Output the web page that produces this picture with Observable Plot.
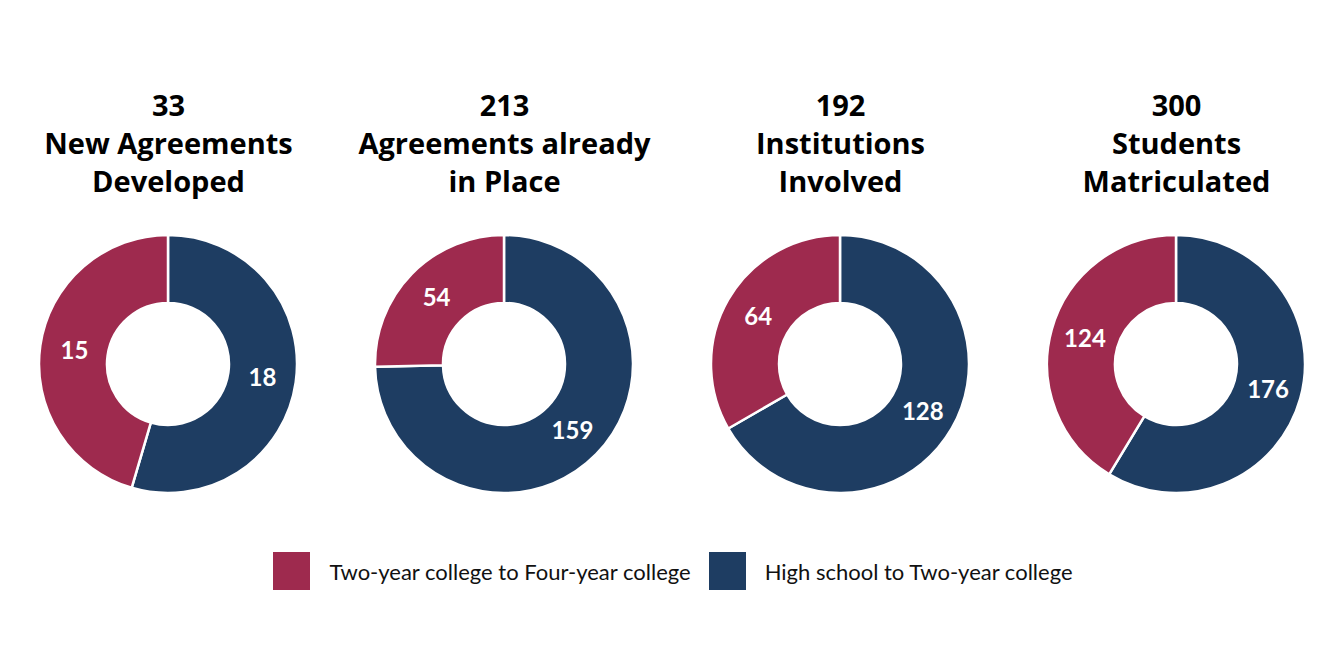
<!DOCTYPE html>
<html>
<head>
<meta charset="utf-8">
<script src="https://cdn.jsdelivr.net/npm/d3@7"></script>
<script src="https://cdn.jsdelivr.net/npm/@observablehq/plot@0.6"></script>
<style>
  html, body { margin: 0; padding: 0; background: #ffffff; }
  body { width: 1344px; height: 672px; overflow: hidden; font-family: Lato, "Open Sans", sans-serif; }
  #legend { display: flex; justify-content: center; align-items: center; padding-top: 22px; margin-left: 2px; }
  .item { display: flex; align-items: center; margin: 0 9px; }
  .swatch { width: 37px; height: 38px; margin-right: 19px; }
  .label { font-size: 22px; color: #111; }
</style>
</head>
<body>
<div id="chart"></div>
<div id="legend"></div>
<script>
// ---- data ----
const categories = ["New Agreements\nDeveloped", "Agreements already\nin Place", "Institutions\nInvolved", "Students\nMatriculated"];
const totals = [33, 213, 192, 300];
const twoYearToFourYear = [15, 54, 64, 124];
const highSchoolToTwoYear = [18, 159, 128, 176];
const seriesNames = ["Two-year college to Four-year college", "High school to Two-year college"];
const seriesColors = ["#9e2a4e", "#1e3d62"];

// ---- layout constants ----
const W = 1344, H = 530;
const CY = 364, R = 129, r = 61;
const TITLE_Y = 141;
const TITLE_SIZE = 29;

const pie = d3.pie().sort(null).value(d => d.value);
const arc = d3.arc().innerRadius(r).outerRadius(R);

// slices (order: High school first, clockwise from 12 o'clock, then Two-year)
const slices = categories.flatMap((c, i) => {
  const arcs = pie([
    {series: 1, value: highSchoolToTwoYear[i]},
    {series: 0, value: twoYearToFourYear[i]}
  ]);
  return arcs.map(a => ({i, series: a.data.series, value: a.data.value, a, c: arc.centroid(a)}));
});

const donutMark = (index, scales) => {
  const g = d3.create("svg:g");
  for (const s of slices) {
    const cx = scales.x(s.i + 0.5), cy = scales.y(CY);
    g.append("path")
      .attr("transform", `translate(${cx},${cy})`)
      .attr("d", arc(s.a))
      .attr("fill", seriesColors[s.series])
      .attr("stroke", "#ffffff")
      .attr("stroke-width", 2.5)
      .attr("stroke-linejoin", "round");
  }
  return g.node();
};

const pxPerUnit = W / 4;

const chart = Plot.plot({
  width: W,
  height: H,
  margin: 0,
  x: {domain: [0, 4], range: [0, W], axis: null},
  y: {domain: [0, H], range: [0, H], axis: null},
  style: {background: "#ffffff"},
  marks: [
    donutMark,
    Plot.text(categories, {
      x: (d, i) => i + 0.5,
      y: () => TITLE_Y,
      text: (d, i) => `${totals[i]}\n${d}`,
      fontSize: TITLE_SIZE,
      fontWeight: "bold",
      lineHeight: 38 / TITLE_SIZE,
      fill: "#000000",
      fontFamily: "'Open Sans', Lato, sans-serif"
    }),
    Plot.text(slices, {
      x: d => d.i + 0.5 + d.c[0] / pxPerUnit,
      y: d => CY + d.c[1],
      text: d => String(d.value),
      fontSize: 24,
      fontWeight: "bold",
      fill: "#ffffff",
      fontFamily: "Lato, 'Open Sans', sans-serif"
    })
  ]
});
document.getElementById("chart").appendChild(chart);

// ---- legend ----
const legend = document.getElementById("legend");
seriesNames.forEach((name, k) => {
  const item = document.createElement("div");
  item.className = "item";
  const sw = document.createElement("div");
  sw.className = "swatch";
  sw.style.background = seriesColors[k];
  const lab = document.createElement("span");
  lab.className = "label";
  lab.textContent = name;
  item.appendChild(sw);
  item.appendChild(lab);
  legend.appendChild(item);
});
</script>
</body>
</html>
